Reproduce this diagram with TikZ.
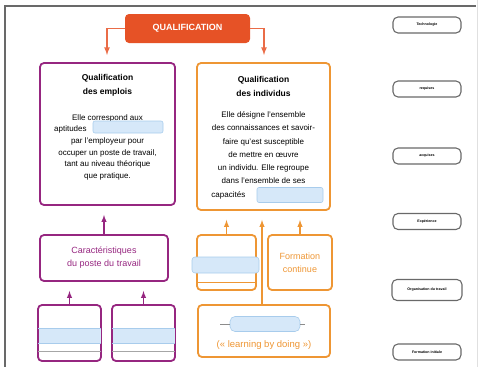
\documentclass[tikz,border=0pt]{standalone}
\usepackage{fontspec}
\setmainfont{Liberation Sans}
\usetikzlibrary{shapes,arrows,positioning}
\definecolor{qred}{RGB}{230,82,38}
\definecolor{qpurple}{RGB}{150,38,128}
\definecolor{qorange}{RGB}{238,150,52}
\definecolor{qblue}{RGB}{214,232,249}
\definecolor{qblueline}{RGB}{168,204,236}
\definecolor{qgray}{RGB}{105,105,105}

\begin{document}
\begin{tikzpicture}[x=1pt, y=-1pt,
    qblank/.style={fill=qblue, draw=qblueline, line width=0.6pt, rounded corners=2pt, inner sep=0pt},
    pbox/.style={draw=qpurple, line width=1.8pt, rounded corners=4pt, inner sep=0pt},
    obox/.style={draw=qorange, line width=1.8pt, rounded corners=4pt, inner sep=0pt},
    pup/.style={draw=qpurple, line width=1.4pt, ->, >=latex, shorten >=9pt},
    oup/.style={draw=qorange, line width=1.4pt, ->, >=latex, shorten >=9pt},
    tag/.style={draw=qgray, line width=1.1pt, rounded corners=5pt, minimum width=68pt, minimum height=16pt, inner sep=1pt, font=\bfseries\fontsize{3.6}{4}\selectfont}]
    \useasboundingbox (0,0) rectangle (483,367);

    % frame
    \draw[qgray, line width=1.2pt] (5,367) -- (5,6) -- (476,6);
    \draw[black!12, line width=0.8pt] (477,0) -- (477,367);

    % top
    \node[fill=qred, rounded corners=4pt, minimum width=125pt, minimum height=29pt, text=white, font=\bfseries\fontsize{9}{10}\selectfont] (title) at (187.5,28.5) {QUALIFICATION};
    \coordinate (toL) at (107,55);
    \coordinate (toR) at (264,55);
    \draw[qred!85, line width=1.6pt, ->, >=latex] (title.west) -| (toL);
    \draw[qred!85, line width=1.6pt, ->, >=latex] (title.east) -| (toR);

    % left column
    \node[pbox, minimum width=135pt, minimum height=142pt] (emplois) at (107.5,134) {};
    \node[anchor=north, align=center, font=\bfseries\fontsize{8.5}{14}\selectfont] (emploisHead) at (107.5,71) {Qualification\\des emplois};
    \node[anchor=north, align=center, font=\fontsize{8}{11.6}\selectfont] (emploisTxt) at (107.5,111) {Elle correspond aux\\aptitudes \rule{72pt}{0pt}\\par l'employeur pour\\occuper un poste de travail,\\tant au niveau théorique\\que pratique.};
    \node[qblank, minimum width=70pt, minimum height=12pt] (blankA) at (128,127) {};

    \node[pbox, minimum width=128pt, minimum height=46pt, text=qpurple, align=center, font=\fontsize{9}{13}\selectfont] (caract) at (104,258) {Caractéristiques\\du poste du travail};
    \draw[pup] (caract.north) -- (caract.north |- emplois.south);

    \node[pbox, minimum width=63pt, minimum height=56pt] (posteA) at (69.5,333) {};
    \node[pbox, minimum width=63pt, minimum height=56pt] (posteB) at (143.5,333) {};
    \node[fill=qblue, minimum width=62pt, minimum height=15pt, inner sep=0pt] (blankB) at (69.5,335.5) {};
    \node[fill=qblue, minimum width=62pt, minimum height=15pt, inner sep=0pt] (blankC) at (143.5,335.5) {};
    \draw[qblueline, line width=0.6pt] (blankB.north west) -- (blankB.north east) (blankB.south west) -- (blankB.south east);
    \draw[qblueline, line width=0.6pt] (blankC.north west) -- (blankC.north east) (blankC.south west) -- (blankC.south east);
    \draw[black!35, line width=0.8pt] ([yshift=-8pt]blankB.south west) -- ([yshift=-8pt]blankB.south east);
    \draw[black!35, line width=0.8pt] ([yshift=-8pt]blankC.south west) -- ([yshift=-8pt]blankC.south east);
    \draw[pup] (posteA.north) -- (posteA.north |- caract.south);
    \draw[pup] (posteB.north) -- (posteB.north |- caract.south);

    % right column
    \node[obox, minimum width=133pt, minimum height=147pt] (individus) at (263.5,136.5) {};
    \node[anchor=north, align=center, font=\bfseries\fontsize{8.5}{14}\selectfont] (individusHead) at (263.5,73) {Qualification\\des individus};
    \node[anchor=north, align=center, font=\fontsize{8}{13.3}\selectfont] (individusTxt) at (263.5,108) {Elle désigne l'ensemble\\des connaissances et savoir-\\faire qu'est susceptible\\de mettre en œuvre\\un individu. Elle regroupe\\dans l'ensemble de ses\\capacités \rule{68pt}{0pt}};
    \node[qblank, minimum width=66pt, minimum height=15pt] (blankD) at (290,195) {};

    \node[obox, minimum width=59pt, minimum height=55pt] (acquis) at (226.5,262.5) {};
    \node[qblank, rounded corners=3pt, minimum width=67pt, minimum height=16pt] (blankE) at (225.5,265) {};
    \draw[qorange, line width=0.8pt] ([yshift=-9pt]acquis.west |- blankE.south) -- ([yshift=-9pt]acquis.east |- blankE.south);
    \node[obox, minimum width=64pt, minimum height=55pt, text=qorange, align=center, font=\fontsize{9}{13}\selectfont] (continue) at (300,262.5) {Formation\\continue};
    \node[obox, minimum width=132pt, minimum height=52pt] (doing) at (264,331) {};
    \node[qblank, rounded corners=5pt, minimum width=70pt, minimum height=15pt] (blankF) at (265,324) {};
    \draw[black!45, line width=0.6pt] (blankF.west) -- ++(-10,0) (blankF.east) -- ++(5,0);
    \node[text=qorange, font=\fontsize{9.5}{11}\selectfont] (doingTxt) at (264,345) {(« learning by doing »)};

    \draw[oup] (acquis.north) -- (acquis.north |- individus.south);
    \draw[oup] (continue.north) -- (continue.north |- individus.south);
    \draw[oup] (doing.north -| 262,0) -- (individus.south -| 262,0);

    % tags
    \node[tag] (tagA) at (427,25) {Technologie};
    \node[tag] (tagB) at (427,89) {requises};
    \node[tag] (tagC) at (427,156) {acquises};
    \node[tag] (tagD) at (427,221.5) {Expérience};
    \node[tag, minimum width=70pt, minimum height=21pt] (tagE) at (427,290) {Organisation du travail};
    \node[tag] (tagF) at (427,352) {Formation initiale};
\end{tikzpicture}
\end{document}
